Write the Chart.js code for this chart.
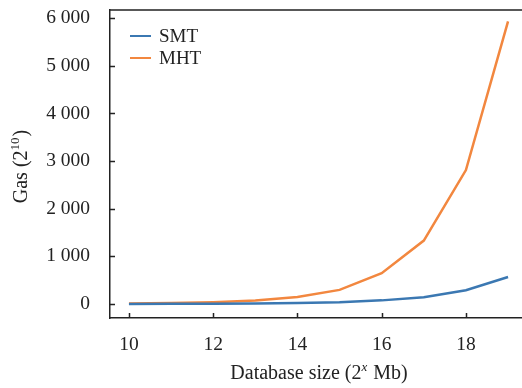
<!DOCTYPE html>
<html>
<head>
<meta charset="utf-8">
<script src="https://cdn.jsdelivr.net/npm/chart.js@4.4.1/dist/chart.umd.min.js"></script>
<style>
  html, body { margin: 0; padding: 0; background: #fff; overflow: hidden; }
</style>
</head>
<body>
<!-- canvas a bit wider than the window so the right spine falls outside, as in the reference -->
<canvas id="myChart" width="540" height="388"></canvas>
<script>
// database size exponents (2^x Mb)
const sizes = [10, 11, 12, 13, 14, 15, 16, 17, 18, 19];
// gas (2^10)
const smtGas = [1, 2, 4.5, 9, 18, 36, 75, 140, 287, 566];
const mhtGas = [9, 18, 37, 72, 145, 295, 645, 1330, 2810, 5930];
const xTicks = [10, 12, 14, 16, 18];
const yTicks = [0, 1000, 2000, 3000, 4000, 5000, 6000];

const FONT = '"Liberation Serif", "Times New Roman", serif';
const INK = '#222';

function fmt(v) {
    return String(v).replace(/\B(?=(\d{3})+(?!\d))/g, ' ');
}

function pts(ys) {
    return sizes.map((x, i) => ({ x: x, y: ys[i] }));
}

// ticks pointing into the plot, top spine, legend and axis titles
const decor = {
    id: 'decor',
    afterDraw(chart) {
        const ctx = chart.ctx;
        const a = chart.chartArea;
        const xs = chart.scales.x, ys = chart.scales.y;
        ctx.save();
        ctx.strokeStyle = INK;
        ctx.lineWidth = 1.5;
        ctx.beginPath();
        ctx.moveTo(a.left, a.top);
        ctx.lineTo(a.right, a.top);
        xTicks.forEach(v => {
            const px = Math.round(xs.getPixelForValue(v)) + 0.5;
            ctx.moveTo(px, a.bottom);
            ctx.lineTo(px, a.bottom - 5);
        });
        yTicks.forEach(v => {
            const py = Math.round(ys.getPixelForValue(v)) + 0.5;
            ctx.moveTo(a.left, py);
            ctx.lineTo(a.left + 5, py);
        });
        ctx.stroke();

        // legend
        ctx.font = '19px ' + FONT;
        ctx.textBaseline = 'middle';
        ctx.textAlign = 'left';
        chart.data.datasets.forEach((ds, i) => {
            const y = 36 + i * 22;
            ctx.strokeStyle = ds.borderColor;
            ctx.lineWidth = 2;
            ctx.beginPath();
            ctx.moveTo(130, y);
            ctx.lineTo(151, y);
            ctx.stroke();
            ctx.fillStyle = INK;
            ctx.fillText(ds.label, 159, y + 1);
        });

        // axis titles with superscripts
        ctx.fillStyle = INK;
        ctx.textBaseline = 'alphabetic';
        const big = '20px ' + FONT;
        function drawParts(parts, cx, cy) {
            let w = 0;
            parts.forEach(p => { ctx.font = p[1] || big; w += ctx.measureText(p[0]).width; });
            let x = cx - w / 2;
            parts.forEach(p => {
                ctx.font = p[1] || big;
                ctx.fillText(p[0], x, cy - (p[1] ? 8 : 0));
                x += ctx.measureText(p[0]).width + (p[1] ? 1 : 0);
            });
        }
        drawParts([['Database size (2', null], ['x', 'italic 13px ' + FONT], [' Mb)', null]], (a.left + a.right) / 2, 379);
        ctx.save();
        ctx.translate(27, 167);
        ctx.rotate(-Math.PI / 2);
        drawParts([['Gas (2', null], ['10', '13px ' + FONT], [')', null]], 0, 0);
        ctx.restore();
        ctx.restore();
    }
};

new Chart(document.getElementById('myChart'), {
    type: 'line',
    data: {
        datasets: [
            { label: 'SMT', data: pts(smtGas), borderColor: '#3b78b2', borderWidth: 2.5, pointRadius: 0, tension: 0 },
            { label: 'MHT', data: pts(mhtGas), borderColor: '#f2873f', borderWidth: 2.5, pointRadius: 0, tension: 0 }
        ]
    },
    options: {
        responsive: false,
        animation: false,
        devicePixelRatio: 1,
        layout: { padding: { top: 10, right: 13, left: 0, bottom: 0 } },
        plugins: { legend: { display: false }, tooltip: { enabled: false } },
        scales: {
            x: {
                type: 'linear',
                min: 9.55,
                max: 19.45,
                afterBuildTicks: s => { s.ticks = xTicks.map(v => ({ value: v })); },
                afterFit: s => { s.height = 70; s.paddingLeft = 0; s.paddingRight = 0; },
                grid: { drawOnChartArea: false, drawTicks: false },
                border: { color: INK, width: 1.5 },
                ticks: { color: INK, padding: 15, font: { family: FONT, size: 19.5 }, maxRotation: 0 }
            },
            y: {
                min: -295,
                max: 6170,
                afterBuildTicks: s => { s.ticks = yTicks.map(v => ({ value: v })); },
                afterFit: s => { s.width = 110; s.paddingTop = 0; s.paddingBottom = 0; },
                grid: { drawOnChartArea: false, drawTicks: false },
                border: { color: INK, width: 1.5 },
                ticks: { color: INK, padding: 20, font: { family: FONT, size: 19.5 }, callback: v => fmt(v) }
            }
        }
    },
    plugins: [decor]
});
</script>
</body>
</html>
